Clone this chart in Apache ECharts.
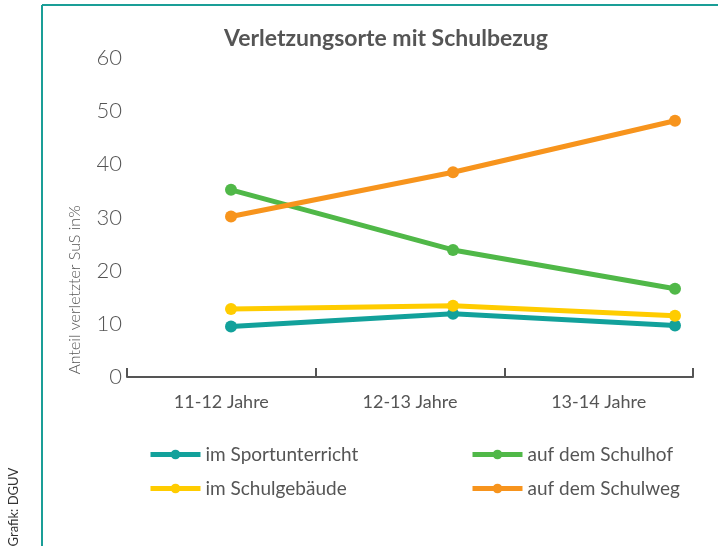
<!DOCTYPE html>
<html><head><meta charset="utf-8">
<script src="https://cdn.jsdelivr.net/npm/echarts@6/dist/echarts.min.js"></script>
<style>html,body{margin:0;padding:0;background:#fff}#c{width:718px;height:546px}</style>
</head><body><div id="c"></div>
<script>
const categories = ['11-12 Jahre', '12-13 Jahre', '13-14 Jahre'];
const seriesNames = ['im Sportunterricht', 'auf dem Schulhof', 'im Schulgebäude', 'auf dem Schulweg'];
const sportunterricht = [9.5, 11.9, 9.7];
const schulhof = [35.2, 23.9, 16.6];
const schulgebaeude = [12.8, 13.4, 11.5];
const schulweg = [30.2, 38.5, 48.2];
const yTicks = [0, 10, 20, 30, 40, 50, 60];

const colors = ['#12a19b', '#50b848', '#ffcc00', '#f7941d'];
const values = [sportunterricht, schulhof, schulgebaeude, schulweg];
const font = 'Lato';
const grey = '#555';

const chart = echarts.init(document.getElementById('c'), null, {renderer: 'canvas'});
chart.setOption({
  animation: false,
  backgroundColor: '#fff',
  title: {
    text: 'Verletzungsorte mit Schulbezug',
    left: 381, top: 22, textAlign: 'center',
    textStyle: {fontFamily: font, fontSize: 23, fontWeight: 'bold', color: grey}
  },
  grid: [
    {left: 127, right: 25, top: 58, bottom: 169},
    {left: 231, right: 43, top: 58, bottom: 169}
  ],
  xAxis: [
    {type: 'category', gridIndex: 0, data: categories, boundaryGap: true,
     axisLine: {show: true, lineStyle: {color: grey, width: 2}},
     axisTick: {show: true, interval: 0, alignWithLabel: false, inside: true, length: 9, lineStyle: {color: grey, width: 2}},
     axisLabel: {fontFamily: font, fontSize: 18, color: grey, margin: 16}},
    {type: 'category', gridIndex: 1, data: categories, boundaryGap: false, show: false}
  ],
  yAxis: [
    {type: 'value', gridIndex: 0, min: yTicks[0], max: yTicks[yTicks.length - 1], interval: 10,
     axisLine: {show: false}, axisTick: {show: false}, splitLine: {show: false},
     axisLabel: {fontFamily: font, fontSize: 22, fontWeight: 300, color: grey, margin: 5}},
    {type: 'value', gridIndex: 1, min: yTicks[0], max: yTicks[yTicks.length - 1], interval: 10, show: false,
     splitLine: {show: false}}
  ],
  legend: [
    {orient: 'vertical', left: 143, top: 440, itemWidth: 50, itemHeight: 12, itemGap: 15,
     data: [seriesNames[0], seriesNames[2]], lineStyle: {width: 5},
     textStyle: {fontFamily: font, fontSize: 19, color: grey, padding: [0, 0, 0, 0]}},
    {orient: 'vertical', left: 465, top: 440, itemWidth: 50, itemHeight: 12, itemGap: 15,
     data: [seriesNames[1], seriesNames[3]], lineStyle: {width: 5},
     textStyle: {fontFamily: font, fontSize: 19, color: grey, padding: [0, 0, 0, 0]}}
  ],
  series: seriesNames.map((n, i) => ({
    name: n, type: 'line', xAxisIndex: 1, yAxisIndex: 1,
    data: values[i], symbol: 'circle', symbolSize: 12,
    lineStyle: {color: colors[i], width: 5},
    itemStyle: {color: colors[i]}
  })),
  graphic: [
    {type: 'line', shape: {x1: 42, y1: 5, x2: 718, y2: 5}, style: {stroke: '#1a9e97', lineWidth: 2}},
    {type: 'line', shape: {x1: 42, y1: 5, x2: 42, y2: 546}, style: {stroke: '#1a9e97', lineWidth: 2}},
    {type: 'text', x: 75, y: 290, rotation: Math.PI / 2,
     style: {text: 'Anteil verletzter SuS in%', fontFamily: font, fontSize: 16, fontWeight: 300, fill: grey, textAlign: 'center', textVerticalAlign: 'middle'}},
    {type: 'text', x: 14, y: 507, rotation: Math.PI / 2,
     style: {text: 'Grafik: DGUV', fontFamily: font, fontSize: 13, fill: '#333', textAlign: 'center', textVerticalAlign: 'middle'}}
  ]
});
</script></body></html>
